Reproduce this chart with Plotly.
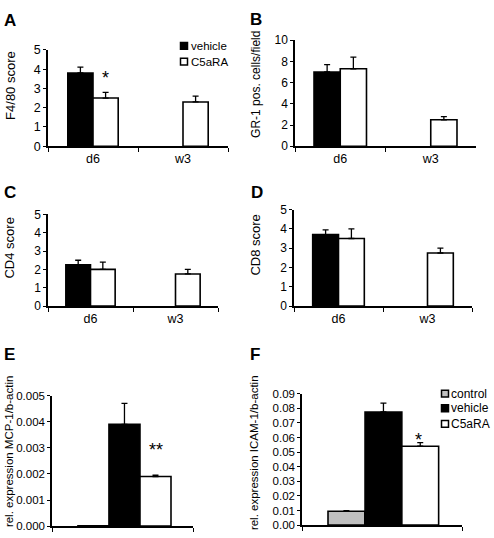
import plotly.graph_objects as go

W, H = 494, 538

# ---------------- data ----------------
cats_time = ["d6", "w3"]

a_vehicle = [3.8, None]
a_vehicle_err = [0.3, 0]
a_c5ara = [2.5, 2.3]
a_c5ara_err = [0.3, 0.3]

b_vehicle = [7.0, None]
b_vehicle_err = [0.7, 0]
b_c5ara = [7.3, 2.5]
b_c5ara_err = [1.1, 0.3]

c_vehicle = [2.25, None]
c_vehicle_err = [0.25, 0]
c_c5ara = [2.0, 1.75]
c_c5ara_err = [0.4, 0.25]

d_vehicle = [3.7, None]
d_vehicle_err = [0.25, 0]
d_c5ara = [3.5, 2.75]
d_c5ara_err = [0.5, 0.25]

e_cat = ["MCP-1"]
e_control = [0.00001]
e_control_err = [0.0]
e_vehicle = [0.0039]
e_vehicle_err = [0.0008]
e_c5ara = [0.0019]
e_c5ara_err = [0.00005]

f_cat = ["ICAM-1"]
f_control = [0.0095]
f_control_err = [0.0005]
f_vehicle = [0.0775]
f_vehicle_err = [0.006]
f_c5ara = [0.054]
f_c5ara_err = [0.0025]

legend_a = ["vehicle", "C5aRA"]
legend_f = ["control", "vehicle", "C5aRA"]

# ---------------- helpers ----------------
def px_x(p):
    return p / W

def px_y(p):
    return 1 - p / H

FONT = "Liberation Sans, Arial, sans-serif"
COL = {"control": "#bfbfbf", "vehicle": "black", "C5aRA": "white"}

fig = go.Figure()

def add_bar(name, xs, ys, errs, axis, width, offset):
    fig.add_trace(go.Bar(
        x=xs, y=ys, name=name,
        marker=dict(color=COL[name], line=dict(color="black", width=1.6)),
        width=width, offset=offset,
        error_y=dict(type="data", symmetric=False, array=errs,
                     arrayminus=[0] * len(errs), color="black",
                     thickness=1.3, width=3),
        xaxis="x" + axis, yaxis="y" + axis,
        showlegend=False,
    ))

# A
add_bar("vehicle", cats_time, a_vehicle, a_vehicle_err, "", 0.28, -0.28)
add_bar("C5aRA", cats_time, a_c5ara, a_c5ara_err, "", 0.28, 0.0)
# B
add_bar("vehicle", cats_time, b_vehicle, b_vehicle_err, "2", 0.29, -0.29)
add_bar("C5aRA", cats_time, b_c5ara, b_c5ara_err, "2", 0.29, 0.0)
# C
add_bar("vehicle", cats_time, c_vehicle, c_vehicle_err, "3", 0.29, -0.29)
add_bar("C5aRA", cats_time, c_c5ara, c_c5ara_err, "3", 0.29, 0.0)
# D
add_bar("vehicle", cats_time, d_vehicle, d_vehicle_err, "4", 0.29, -0.29)
add_bar("C5aRA", cats_time, d_c5ara, d_c5ara_err, "4", 0.29, 0.0)
# E
add_bar("control", e_cat, e_control, e_control_err, "5", 0.22, -0.316)
add_bar("vehicle", e_cat, e_vehicle, e_vehicle_err, "5", 0.22, -0.096)
add_bar("C5aRA", e_cat, e_c5ara, e_c5ara_err, "5", 0.22, 0.124)
# F
add_bar("control", f_cat, f_control, f_control_err, "6", 0.23, -0.3375)
add_bar("vehicle", f_cat, f_vehicle, f_vehicle_err, "6", 0.23, -0.106)
add_bar("C5aRA", f_cat, f_c5ara, f_c5ara_err, "6", 0.23, 0.124)

# ---------------- axes ----------------
panels = {
    "": dict(x=(48, 228), y=(143, 44), rng=[0, 5], dtick=1, fmt=None, labels=True, fs=12.5),
    "2": dict(x=(295, 476), y=(143, 34), rng=[0, 10], dtick=2, fmt=None, labels=True, fs=12),
    "3": dict(x=(48, 218), y=(307, 213), rng=[0, 5], dtick=1, fmt=None, labels=True, fs=12),
    "4": dict(x=(294, 472), y=(307, 208), rng=[0, 5], dtick=1, fmt=None, labels=True, fs=12),
    "5": dict(x=(52, 193), y=(533, 399), rng=[0, 0.005], dtick=0.001, fmt=".3f", labels=False, fs=11.5),
    "6": dict(x=(302, 462), y=(532, 397), rng=[0, 0.09], dtick=0.01, fmt=".2f", labels=False, fs=11.5),
}

layout = {}
for k, p in panels.items():
    xa = dict(
        domain=[px_x(p["x"][0]), px_x(p["x"][1])],
        anchor="y" + k, type="category",
        showline=True, linecolor="black", linewidth=1.5,
        ticks="outside", ticklen=4, tickwidth=1.2, tickcolor="black",
        tickson="boundaries", showgrid=False, zeroline=False,
        showticklabels=p["labels"],
        tickfont=dict(family=FONT, size=12.5, color="black"),
        range=[-0.5, 1.5] if p["labels"] else [-0.5, 0.5],
        fixedrange=True,
    )
    ya = dict(
        domain=[px_y(p["y"][0]), px_y(p["y"][1])],
        anchor="x" + k, range=p["rng"], dtick=p["dtick"], tick0=0,
        showline=True, linecolor="black", linewidth=1.5,
        ticks="outside", ticklen=3, tickwidth=1.2, tickcolor="black",
        showgrid=False, zeroline=False,
        tickfont=dict(family=FONT, size=p["fs"], color="black"),
        fixedrange=True,
    )
    if p["fmt"]:
        ya["tickformat"] = p["fmt"]
    layout["xaxis" + k] = xa
    layout["yaxis" + k] = ya

fig.update_layout(**layout)

# ---------------- annotations ----------------
ann = []
for letter, (x, y) in {"A": (10, 14), "B": (256, 13), "C": (10, 190),
                       "D": (257, 190), "E": (9, 357), "F": (255, 357)}.items():
    ann.append(dict(text="<b>%s</b>" % letter, x=px_x(x), y=px_y(y),
                    xref="paper", yref="paper", showarrow=False,
                    xanchor="center", yanchor="middle",
                    font=dict(family=FONT, size=17, color="black")))

titles = [
    ("F4/80 score", 11, 81, 13),
    ("GR-1 pos. cells/field", 256, 80, 12),
    ("CD4 score", 10, 248, 13),
    ("CD8 score", 256, 245, 13),
    ("rel. expression MCP-1/b-actin", 9, 457, 11.5),
    ("rel. expression ICAM-1/b-actin", 254, 457, 11.5),
]
for t, x, y, s in titles:
    ann.append(dict(text=t, x=px_x(x), y=px_y(y), xref="paper", yref="paper",
                    showarrow=False, textangle=-90, xanchor="center",
                    yanchor="middle",
                    font=dict(family=FONT, size=s, color="black")))

# significance marks
ann.append(dict(text="*", x="d6", y=3.55, xref="x", yref="y", xshift=12,
                showarrow=False, font=dict(family=FONT, size=18, color="black")))
ann.append(dict(text="**", x="MCP-1", y=0.0029, xref="x5", yref="y5", xshift=33,
                showarrow=False, font=dict(family=FONT, size=18, color="black")))
ann.append(dict(text="*", x="ICAM-1", y=0.058, xref="x6", yref="y6", xshift=36,
                showarrow=False, font=dict(family=FONT, size=18, color="black")))

# ---------------- legends (swatch + label) ----------------
shapes = []
def legend_block(names, sx, ys, tx, fsize):
    for nm, yy in zip(names, ys):
        shapes.append(dict(type="rect", xref="paper", yref="paper",
                           x0=px_x(sx - 3.5), x1=px_x(sx + 3.5),
                           y0=px_y(yy + 3.5), y1=px_y(yy - 3.5),
                           fillcolor=COL[nm], line=dict(color="black", width=1.5)))
        ann.append(dict(text=nm, x=px_x(tx), y=px_y(yy), xref="paper", yref="paper",
                        showarrow=False, xanchor="left", yanchor="middle",
                        font=dict(family=FONT, size=fsize, color="black")))

legend_block(legend_a, 184, [40, 56], 189, 11.5)
legend_block(legend_f, 445, [397, 412, 428], 449, 12)

fig.update_layout(
    annotations=ann, shapes=shapes,
    width=W, height=H,
    margin=dict(l=0, r=0, t=0, b=0),
    paper_bgcolor="white", plot_bgcolor="white",
    barmode="overlay", showlegend=False,
    font=dict(family=FONT, color="black"),
)

fig.write_html("out.html", config={"displayModeBar": False},
               post_script="document.body.style.margin='0px';document.body.style.overflow='hidden';")
